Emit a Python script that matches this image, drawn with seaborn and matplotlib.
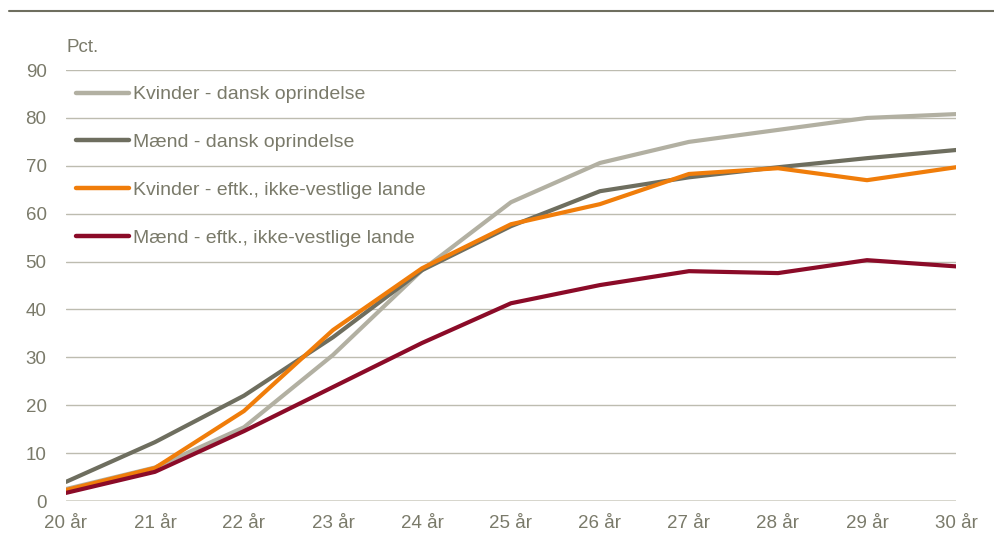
import pandas as pd
import seaborn as sns
import matplotlib.pyplot as plt
from matplotlib.lines import Line2D

# Data
ages = [20, 21, 22, 23, 24, 25, 26, 27, 28, 29, 30]
age_labels = [f"{a} år" for a in ages]

kvinder_dansk = [2.5, 7.0, 15.4, 30.5, 48.2, 62.4, 70.6, 75.0, 77.5, 80.0, 80.8]
maend_dansk = [4.0, 12.3, 22.0, 34.2, 48.2, 57.4, 64.7, 67.6, 69.7, 71.6, 73.3]
kvinder_ikkevest = [2.3, 6.9, 18.8, 35.7, 48.6, 57.8, 62.0, 68.3, 69.5, 67.0, 69.7]
maend_ikkevest = [1.7, 6.1, 14.6, 23.8, 33.0, 41.3, 45.1, 48.0, 47.6, 50.3, 49.0]

series_names = ["Kvinder - dansk oprindelse", "Mænd - dansk oprindelse",
                "Kvinder - eftk., ikke-vestlige lande", "Mænd - eftk., ikke-vestlige lande"]
colors = ["#b2b0a2", "#6e6e5f", "#f07d0a", "#8b0b28"]

df = pd.DataFrame({
    "age": ages * 4,
    "value": kvinder_dansk + maend_dansk + kvinder_ikkevest + maend_ikkevest,
    "series": sum([[n] * len(ages) for n in series_names], []),
})

sns.set_style("white")
plt.rcParams["font.family"] = ["Liberation Sans Narrow", "Liberation Sans", "DejaVu Sans"]
text_col = "#7a7a6a"

fig = plt.figure(figsize=(9.95, 5.43), dpi=100)
ax = fig.add_axes([0.0663, 0.0773, 0.8945, 0.7937])

for y in range(10, 100, 10):
    ax.axhline(y, color="#bdbcb0", lw=1.0, zorder=0)
ax.axhline(0, color="#d3d2c8", lw=2.0, zorder=0)

sns.lineplot(data=df, x="age", y="value", hue="series", hue_order=series_names,
             palette=colors, linewidth=3.0, ax=ax, legend=False)

ax.set_xlim(20, 30)
ax.set_ylim(0, 90)
ax.set_xticks(ages)
ax.set_xticklabels(age_labels)
ax.set_yticks(range(0, 100, 10))
ax.tick_params(axis="both", length=0, labelsize=13.5, labelcolor=text_col)
ax.tick_params(axis="x", pad=10)
ax.tick_params(axis="y", pad=14)
ax.set_xlabel("")
ax.set_ylabel("")
for s in ax.spines.values():
    s.set_visible(False)

handles = [Line2D([0], [0], color=c, lw=3.2) for c in colors]
leg = ax.legend(handles, series_names, loc="upper left", bbox_to_anchor=(-0.004, 0.995),
                frameon=False, fontsize=14, handlelength=2.7, handletextpad=0.25,
                labelspacing=1.55, borderaxespad=0.3, labelcolor=text_col)

fig.text(0.067, 0.905, "Pct.", fontsize=13.5, color=text_col)

# top rule of the figure
fig.add_artist(Line2D([0.009, 1.0], [0.98, 0.98], color="#6e6e5f", lw=1.5))

fig.savefig("out.png", dpi=100)
